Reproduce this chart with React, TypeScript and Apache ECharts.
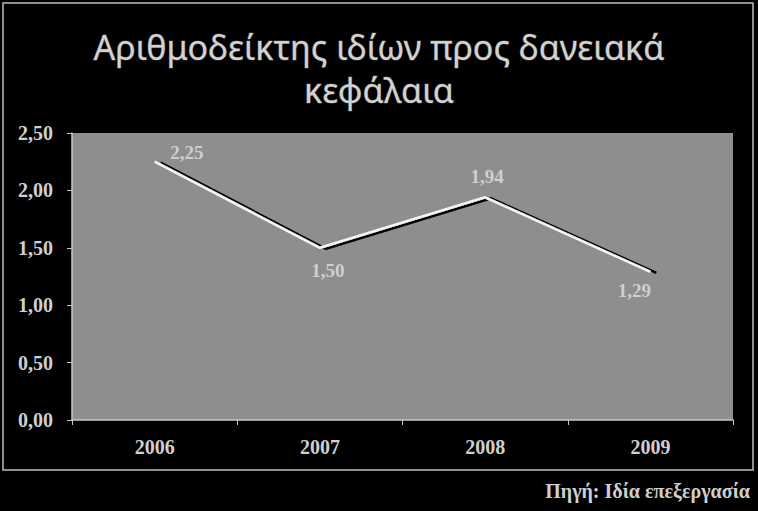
import React, {useRef, useEffect} from 'react';
import * as echarts from 'echarts';

const years = ['2006', '2007', '2008', '2009'];
const ratio = [2.25, 1.5, 1.94, 1.29];
// where each value label sits relative to its point
const labelSides = ['right', 'bottom', 'top', 'bottom'];
const labelShifts = [
    [10, -9],
    [8, 8],
    [2, -6],
    [-16, 4]
];

const titleText = 'Αριθμοδείκτης ιδίων προς δανειακά\nκεφάλαια';
const sourceText = 'Πηγή: Ιδία επεξεργασία';

const fmt = (v: number) => v.toFixed(2).replace('.', ',');

const textGray = '#cfcfcf';
const serif = '"Liberation Serif", "DejaVu Serif", serif';

const App = () => {
    const ref = useRef<HTMLDivElement | null>(null);

    useEffect(() => {
        const chart = echarts.init(ref.current as HTMLDivElement, null, {renderer: 'svg'});
        chart.setOption({
            animation: false,
            backgroundColor: '#000',
            title: {
                text: titleText,
                left: 'center',
                top: 20,
                textStyle: {
                    fontFamily: '"Noto Sans", "Open Sans", sans-serif',
                    fontSize: 34,
                    fontWeight: 'normal',
                    lineHeight: 43,
                    color: '#d2d2d2',
                    textBorderColor: '#4a4a4a',
                    textBorderWidth: 1
                }
            },
            grid: {
                left: 72,
                right: 25,
                top: 133,
                bottom: 91,
                show: true,
                backgroundColor: '#8e8e8e',
                borderWidth: 0
            },
            xAxis: {
                type: 'category',
                data: years,
                boundaryGap: true,
                axisLine: {lineStyle: {color: '#c8c8c8', width: 1.5}},
                axisTick: {show: true, length: 5, lineStyle: {color: '#c8c8c8'}},
                axisLabel: {
                    margin: 17,
                    color: textGray,
                    fontFamily: serif,
                    fontWeight: 'bold',
                    fontSize: 20
                }
            },
            yAxis: {
                type: 'value',
                min: 0,
                max: 2.5,
                interval: 0.5,
                splitLine: {show: false},
                axisLine: {show: true, lineStyle: {color: '#c8c8c8', width: 1.5}},
                axisTick: {show: true, length: 5, lineStyle: {color: '#c8c8c8'}},
                axisLabel: {
                    margin: 19,
                    color: textGray,
                    fontFamily: serif,
                    fontWeight: 'bold',
                    fontSize: 20,
                    formatter: (v: number) => fmt(v)
                }
            },
            series: [
                {
                    type: 'line',
                    data: ratio.map((v, i) => ({
                        value: v,
                        label: {
                            show: true,
                            position: labelSides[i],
                            offset: labelShifts[i],
                            color: textGray,
                            fontFamily: serif,
                            fontWeight: 'bold',
                            fontSize: 19
                        }
                    })),
                    symbol: 'circle',
                    symbolSize: 1,
                    showSymbol: true,
                    itemStyle: {color: 'rgba(0,0,0,0)'},
                    lineStyle: {
                        color: '#f4f4f4',
                        width: 2.5,
                        shadowColor: '#000',
                        shadowOffsetX: 6,
                        shadowOffsetY: 1,
                        shadowBlur: 1
                    },
                    label: {
                        show: true,
                        color: textGray,
                        fontFamily: serif,
                        fontWeight: 'bold',
                        fontSize: 19,
                        formatter: (p: {value: number}) => fmt(p.value)
                    }
                }
            ],
            graphic: [
                {
                    type: 'rect',
                    shape: {x: 3, y: 3, width: 750, height: 467},
                    style: {fill: 'none', stroke: '#bdbdbd', lineWidth: 1.5},
                    silent: true
                },
                {
                    type: 'text',
                    right: 8,
                    top: 481,
                    style: {
                        text: sourceText,
                        fill: textGray,
                        font: 'bold 20px ' + serif
                    }
                }
            ]
        });
        return () => chart.dispose();
    }, []);

    return <div ref={ref} style={{position: 'fixed', left: 0, top: 0, width: 758, height: 511}}></div>;
};

export default App;
